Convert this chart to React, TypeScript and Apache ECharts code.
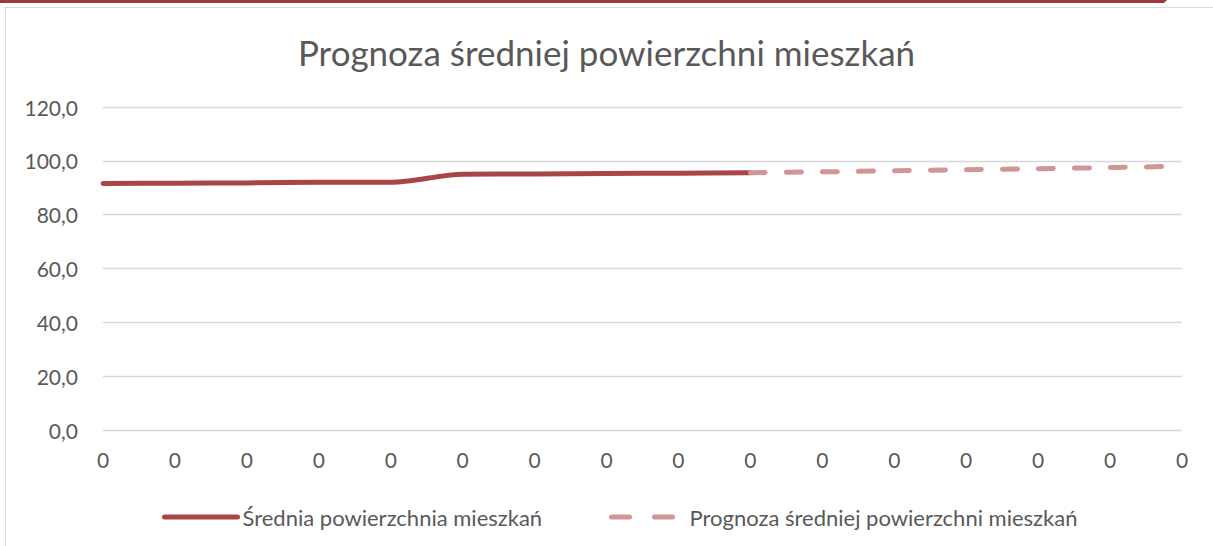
import React, { useEffect, useRef } from "react";
import * as echarts from "echarts";

const categories = ["0", "0", "0", "0", "0", "0", "0", "0", "0", "0", "0", "0", "0", "0", "0", "0"];
const actualValues: (number | null)[] = [91.6, 91.7, 91.8, 92.0, 92.0, 95.0, 95.1, 95.3, 95.4, 95.6, null, null, null, null, null, null];
const forecastValues: (number | null)[] = [null, null, null, null, null, null, null, null, null, 95.6, 95.9, 96.3, 96.7, 97.1, 97.5, 98.0];
const seriesNames = ["Średnia powierzchnia mieszkań", "Prognoza średniej powierzchni mieszkań"];
const titleText = "Prognoza średniej powierzchni mieszkań";

const FONT = "Lato, 'Open Sans', sans-serif";
const TEXT = "#595959";

export default function App() {
  const ref = useRef<HTMLDivElement>(null);
  useEffect(() => {
    if (!ref.current) return;
    const chart = echarts.init(ref.current, null, { renderer: "svg" });
    chart.setOption({
      animation: false,
      title: {
        text: titleText,
        left: "center",
        top: 29,
        textStyle: { fontFamily: FONT, fontSize: 35, fontWeight: "normal", color: TEXT },
      },
      legend: [
        {
          data: [seriesNames[0]],
          left: 157,
          top: 501,
          itemWidth: 73,
          itemHeight: 14,
          itemGap: 0,
          itemStyle: { opacity: 0 },
          lineStyle: { width: 5, cap: "round" },
          textStyle: { fontFamily: FONT, fontSize: 22, color: TEXT },
        },
        {
          data: [seriesNames[1]],
          left: 604,
          top: 501,
          itemWidth: 68,
          itemHeight: 14,
          itemGap: 0,
          itemStyle: { opacity: 0 },
          lineStyle: { width: 5, cap: "round", type: [18, 25] },
          textStyle: { fontFamily: FONT, fontSize: 22, color: TEXT, padding: [0, 0, 0, 5] },
        },
      ],
      grid: { left: 103, right: 31, top: 107, bottom: 116, containLabel: false },
      xAxis: {
        type: "category",
        data: categories,
        boundaryGap: false,
        axisLine: { show: false },
        axisTick: { show: false },
        axisLabel: { fontFamily: FONT, fontSize: 21, color: TEXT, margin: 19, interval: 0 },
      },
      yAxis: {
        type: "value",
        min: 0,
        max: 120,
        interval: 20,
        axisLine: { show: false },
        axisTick: { show: false },
        splitLine: { lineStyle: { color: "#D9D9D9", width: 1.3 } },
        axisLabel: {
          fontFamily: FONT,
          fontSize: 21,
          color: TEXT,
          margin: 25,
          formatter: (v: number) => v.toFixed(1).replace(".", ","),
        },
      },
      series: [
        {
          name: seriesNames[0],
          type: "line",
          data: actualValues,
          smooth: 0.3,
          showSymbol: false,
          symbol: "none",
          lineStyle: { color: "#A94545", width: 5, cap: "round" },
          itemStyle: { color: "#A94545" },
        },
        {
          name: seriesNames[1],
          type: "line",
          data: forecastValues,
          smooth: 0.3,
          showSymbol: false,
          symbol: "none",
          lineStyle: { color: "#D39494", width: 5, type: [15, 21], cap: "round" },
          itemStyle: { color: "#D39494" },
        },
      ],
    });
    return () => chart.dispose();
  }, []);

  return (
    <div style={{ position: "absolute", left: 0, top: 0, width: 1213, height: 546, background: "#fff", overflow: "hidden" }}>
      <div
        style={{
          position: "absolute",
          left: 0,
          top: 0,
          width: 1167,
          height: 3,
          background: "#9E3A3A",
          clipPath: "polygon(0 0, 100% 0, calc(100% - 3px) 100%, 0 100%)",
        }}
      />
      <div
        style={{
          position: "absolute",
          left: 5,
          top: 7,
          width: 1215,
          height: 560,
          border: "1.5px solid #D9D9D9",
          boxSizing: "border-box",
        }}
      />
      <div ref={ref} style={{ position: "absolute", left: 0, top: 0, width: 1213, height: 546 }} />
    </div>
  );
}
